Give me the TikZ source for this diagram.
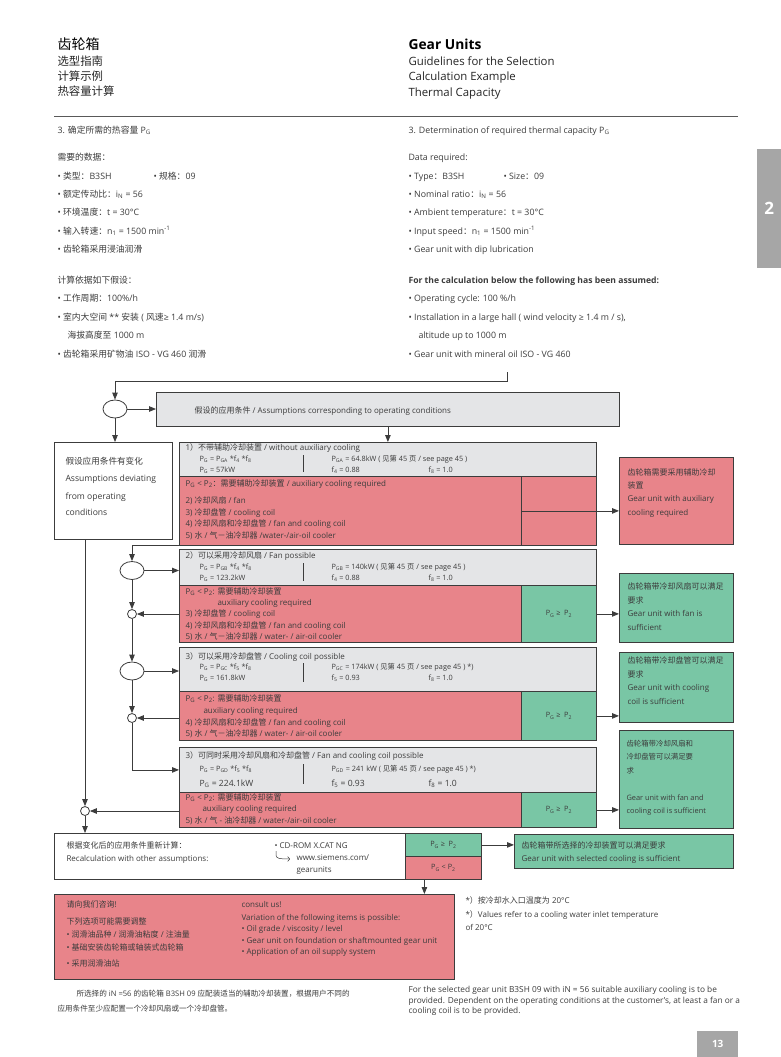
\documentclass[tikz,border=0pt]{standalone}
\usepackage{fontspec}
\setmainfont{Open Sans}
\newfontfamily\cjk{Noto Sans CJK SC}
\usetikzlibrary{arrows.meta,shapes.geometric}
% Chinese characters switch to the CJK family on their own
\XeTeXinterchartokenstate=1
\newXeTeXintercharclass\hanclass
\count255="21
\loop
  \XeTeXcharclass\count255=0
  \advance\count255 by 1
\ifnum\count255<"2E80 \repeat
\count255="2E80
\loop
  \XeTeXcharclass\count255=\hanclass
  \advance\count255 by 1
\ifnum\count255<"A000 \repeat
\count255="FF00
\loop
  \XeTeXcharclass\count255=\hanclass
  \advance\count255 by 1
\ifnum\count255<"FFF0 \repeat
\XeTeXinterchartoks 0 \hanclass = {\cjk}
\XeTeXinterchartoks 4095 \hanclass = {\cjk}
\XeTeXinterchartoks \hanclass 0 = {\rmfamily}
\XeTeXinterchartoks \hanclass 4095 = {\rmfamily}
\definecolor{txt}{RGB}{60,60,60}
\definecolor{edge}{RGB}{60,60,60}
\definecolor{boxred}{RGB}{232,132,138}
\definecolor{boxgreen}{RGB}{121,198,165}
\definecolor{boxgray}{RGB}{228,229,231}
\definecolor{tabgray}{RGB}{166,166,166}
\newcommand\Pg{P\textsubscript{G}}
\newcommand\Pz{P\textsubscript{2}}
\newcommand\sbs[1]{\textsubscript{#1}}
\begin{document}
\begin{tikzpicture}[x=1pt,y=-1pt,
  body/.style={anchor=base west,font=\fontsize{8.8}{10}\selectfont,text=txt},
  dia/.style={anchor=base west,font=\fontsize{8}{9}\selectfont,text=txt},
  frm/.style={anchor=base west,font=\fontsize{7.3}{8}\selectfont,text=txt},
  res/.style={anchor=base west,font=\fontsize{8}{9}\selectfont,text=txt},
  panel/.style={draw=edge,line width=.8pt,anchor=north west,inner sep=0pt},
  arr/.style={draw=edge,line width=.8pt,-{Triangle[length=7pt,width=5.5pt]}},
  bigc/.style={ellipse,draw=edge,fill=white,line width=.8pt,minimum width=24pt,minimum height=18pt,inner sep=0pt},
  smallc/.style={circle,draw=edge,fill=white,line width=.8pt,minimum size=9pt,inner sep=0pt}]
  \fill[white] (0,0) rectangle (781,1057);
  \useasboundingbox (0,0) rectangle (781,1057);

  % header
  \node[anchor=base west,font=\fontsize{14}{16}\selectfont,text=black] (zhtitle) at (54,49) {齿轮箱};
  \node[anchor=base west,font=\fontsize{11.4}{13}\selectfont,text=black!85] (zhsub1) at (54,66) {选型指南};
  \node[anchor=base west,font=\fontsize{11.4}{13}\selectfont,text=black!85] (zhsub2) at (54,81) {计算示例};
  \node[anchor=base west,font=\fontsize{11.4}{13}\selectfont,text=black!85] (zhsub3) at (54,95) {热容量计算};
  \node[anchor=base west,font=\fontsize{13.8}{16}\selectfont\bfseries,text=black] (entitle) at (405,49) {Gear Units};
  \node[anchor=base west,font=\fontsize{11.4}{13}\selectfont,text=black!85] (ensub1) at (405,66) {Guidelines for the Selection};
  \node[anchor=base west,font=\fontsize{11.4}{13}\selectfont,text=black!85] (ensub2) at (405,81) {Calculation Example};
  \node[anchor=base west,font=\fontsize{11.4}{13}\selectfont,text=black!85] (ensub3) at (405,96) {Thermal Capacity};
  \draw[black!65,line width=1pt] (54,116) -- (738,116);
  \node[anchor=north west,fill=tabgray,minimum width=24pt,minimum height=119pt,inner sep=0pt] (tab) at (757,149) {};
  \node[font=\fontsize{17}{18}\selectfont\bfseries,text=white] (tabnum) at (tab.center) {2};

  % data, chinese
  \node[body] (zh1) at (54,133) {3. 确定所需的热容量 \Pg};
  \node[body] (zh2) at (54,160) {需要的数据：};
  \node[body] (zh3) at (54,179) {• 类型：B3SH};
  \node[body] (zh3b) at (150,179) {• 规格：09};
  \node[body] (zh4) at (54,197) {• 额定传动比：i\sbs{N} = 56};
  \node[body] (zh5) at (54,215) {• 环境温度：t = 30°C};
  \node[body] (zh6) at (54,234) {• 输入转速：n\sbs{1} = 1500 min\textsuperscript{-1}};
  \node[body] (zh7) at (54,252) {• 齿轮箱采用浸油润滑};
  \node[body] (zh8) at (54,283) {计算依据如下假设：};
  \node[body] (zh9) at (54,301) {• 工作周期：100\%/h};
  \node[body] (zh10) at (54,320) {• 室内大空间 ** 安装 ( 风速≥ 1.4 m/s)};
  \node[body] (zh11) at (64,338) {海拔高度至 1000 m};
  \node[body] (zh12) at (54,357) {• 齿轮箱采用矿物油 ISO - VG 460 润滑};

  % data, english
  \node[body] (en1) at (405,133) {3. Determination of required thermal capacity \Pg};
  \node[body] (en2) at (405,160) {Data required:};
  \node[body] (en3) at (405,179) {• Type：B3SH};
  \node[body] (en3b) at (500,179) {• Size：09};
  \node[body] (en4) at (405,197) {• Nominal ratio：i\sbs{N} = 56};
  \node[body] (en5) at (405,215) {• Ambient temperature：t = 30°C};
  \node[body] (en6) at (405,234) {• Input speed：n\sbs{1} = 1500 min\textsuperscript{-1}};
  \node[body] (en7) at (405,252) {• Gear unit with dip lubrication};
  \node[body,font=\fontsize{8.6}{10}\selectfont\bfseries] (en8) at (405,283) {For the calculation below the following has been assumed:};
  \node[body] (en9) at (405,301) {• Operating cycle: 100 \%/h};
  \node[body] (en10) at (405,320) {• Installation in a large hall ( wind velocity ≥ 1.4 m / s),};
  \node[body] (en11) at (415,338) {altitude up to 1000 m};
  \node[body] (en12) at (405,357) {• Gear unit with mineral oil ISO - VG 460};

  % panels
  \node[panel,fill=boxgray,minimum width=463pt,minimum height=34pt] (assume) at (156,392) {};
  \node[panel,fill=white,minimum width=118pt,minimum height=97pt] (devbox) at (54,442) {};
  \node[panel,fill=boxgray,minimum width=417pt,minimum height=34pt] (b1top) at (179,442) {};
  \node[panel,fill=boxred,minimum width=417pt,minimum height=69pt] (b1bot) at (179,476) {};
  \node[panel,fill=boxred,minimum width=75pt,minimum height=69pt] (cell1) at (521,476) {};
  \node[panel,fill=boxred,minimum width=114pt,minimum height=87pt] (res1) at (619,457) {};
  \node[panel,fill=boxgray,minimum width=417pt,minimum height=36pt] (b2top) at (179,549) {};
  \node[panel,fill=boxred,minimum width=342pt,minimum height=57pt] (b2bot) at (179,585) {};
  \node[panel,fill=boxgreen,minimum width=75pt,minimum height=57pt] (cell2) at (521,585) {};
  \node[panel,fill=boxgreen,minimum width=114pt,minimum height=69pt] (res2) at (619,573) {};
  \node[panel,fill=boxgray,minimum width=417pt,minimum height=44pt] (b3top) at (179,647) {};
  \node[panel,fill=boxred,minimum width=342pt,minimum height=49pt] (b3bot) at (179,691) {};
  \node[panel,fill=boxgreen,minimum width=75pt,minimum height=49pt] (cell3) at (521,691) {};
  \node[panel,fill=boxgreen,minimum width=114pt,minimum height=70pt] (res3) at (619,652) {};
  \node[panel,fill=boxgray,minimum width=417pt,minimum height=45pt] (b4top) at (179,747) {};
  \node[panel,fill=boxred,minimum width=342pt,minimum height=35pt] (b4bot) at (179,792) {};
  \node[panel,fill=boxgreen,minimum width=75pt,minimum height=35pt] (cell4) at (521,792) {};
  \node[panel,fill=boxgreen,minimum width=114pt,minimum height=98pt] (res4) at (619,730) {};
  \node[panel,fill=white,minimum width=351pt,minimum height=46pt] (recalc) at (54,833) {};
  \node[panel,fill=boxgreen,minimum width=76pt,minimum height=23pt] (okcell) at (405,833) {};
  \node[panel,fill=boxred,minimum width=76pt,minimum height=23pt] (nocell) at (405,856) {};
  \node[panel,fill=boxgreen,minimum width=219pt,minimum height=34pt] (final) at (514,834) {};
  \node[panel,fill=boxred,minimum width=400pt,minimum height=85pt] (consult) at (54,894) {};

  % junctions
  \node[bigc] (c1) at (115,409) {};
  \node[bigc] (c2) at (132,570.5) {};
  \node[smallc] (s2) at (132,614) {};
  \node[bigc] (c3) at (132,671) {};
  \node[smallc] (s3) at (132,718) {};
  \node[smallc] (s4) at (85,811) {};

  % connectors
  \coordinate (feed) at (507,372);
  \draw[arr] (feed) -- ++(0,9) -| (c1.north);
  \draw[arr] (c1.east) -- (c1.east -| assume.west);
  \draw[arr] (c1.south) -- (c1.south |- devbox.north);
  \draw[arr] (assume.south) -- (assume.south |- b1top.north);
  \draw[arr] (cell1.west) -- (cell1.west -| res1.west);
  \draw[arr] (b1bot.south west) -| (c2.north);
  \draw[arr] (c2.east) -- (c2.east -| b2top.west);
  \draw[arr] (c2.south) -- (s2.north);
  \draw[arr] (s2.east -| b2bot.west) -- (s2.east);
  \draw[arr] (cell2.east) -- (cell2.east -| res2.west);
  \draw[arr] (s2.south) -- (c3.north);
  \draw[arr] (c3.east) -- (c3.east -| b3top.west);
  \draw[arr] (c3.south) -- (s3.north);
  \draw[arr] (s3.east -| b3bot.west) -- (s3.east);
  \draw[arr] (cell3.east) -- (cell3.east -| res3.west);
  \draw[arr] (s3.south) |- (b4top.west);
  \draw[arr] (s4.east -| b4bot.west) -- (s4.east);
  \draw[arr] (cell4.east) -- (cell4.east -| res4.west);
  \draw[arr] (s4 |- devbox.south) -- (s4.north);
  \draw[arr] (s4.south) -- (s4.south |- recalc.north);
  \draw[arr] (okcell.east) -- (okcell.east -| final.west);
  \draw[arr] ([xshift=-19pt]nocell.south) -- ([xshift=-19pt]nocell.south |- consult.north);

  % panel texts
  \node[dia] (assumet) at (191,413) {假设的应用条件 / Assumptions corresponding to operating conditions};
  \node[dia,font=\fontsize{8.6}{10}\selectfont] (dev1) at (62,464.5) {假设应用条件有变化};
  \node[dia,font=\fontsize{8.6}{10}\selectfont] (dev2) at (62,481.5) {Assumptions deviating};
  \node[dia,font=\fontsize{8.6}{10}\selectfont] (dev3) at (62,499.5) {from operating};
  \node[dia,font=\fontsize{8.6}{10}\selectfont] (dev4) at (62,515.5) {conditions};

  \node[dia] (b1t) at (182,450) {1）不带辅助冷却装置 / without auxiliary cooling};
  \node[frm] (b1f1) at (196,461.5) {\Pg{} = P\sbs{GA} *f\sbs{4} *f\sbs{8}};
  \node[frm] (b1f2) at (196,472.5) {\Pg{} = 57kW};
  \draw[edge,line width=.8pt] (303,455) -- (303,472);
  \node[frm] (b1f3) at (328,461.5) {P\sbs{GA} = 64.8kW ( 见第 45 页 / see page 45 )};
  \node[frm] (b1f4) at (328,472.5) {f\sbs{4} = 0.88};
  \node[frm] (b1f5) at (425,472.5) {f\sbs{8} = 1.0};
  \node[dia] (b1r1) at (182,486) {\Pg{} < \Pz：需要辅助冷却装置 / auxiliary cooling required};
  \node[dia] (b1r2) at (182,503) {2) 冷却风扇 / fan};
  \node[dia] (b1r3) at (182,515) {3) 冷却盘管 / cooling coil};
  \node[dia] (b1r4) at (182,526) {4) 冷却风扇和冷却盘管 / fan and cooling coil};
  \node[dia] (b1r5) at (182,538) {5) 水 / 气－油冷却器 /water-/air-oil cooler};

  \node[dia] (b2t) at (182,558) {2）可以采用冷却风扇 / Fan possible};
  \node[frm] (b2f1) at (196,569.5) {\Pg{} = P\sbs{GB} *f\sbs{4} *f\sbs{8}};
  \node[frm] (b2f2) at (196,580.5) {\Pg{} = 123.2kW};
  \draw[edge,line width=.8pt] (303,563) -- (303,581);
  \node[frm] (b2f3) at (328,569.5) {P\sbs{GB} = 140kW ( 见第 45 页 / see page 45 )};
  \node[frm] (b2f4) at (328,580.5) {f\sbs{4} = 0.88};
  \node[frm] (b2f5) at (425,580.5) {f\sbs{8} = 1.0};
  \node[dia] (b2r1) at (182,594) {\Pg{} < \Pz : 需要辅助冷却装置};
  \node[dia] (b2r2) at (214,605) {auxiliary cooling required};
  \node[dia] (b2r3) at (182,616) {3) 冷却盘管 / cooling coil};
  \node[dia] (b2r4) at (182,628) {4) 冷却风扇和冷却盘管 / fan and cooling coil};
  \node[dia] (b2r5) at (182,639) {5) 水 / 气－油冷却器 / water- / air-oil cooler};

  \node[dia] (b3t) at (182,659) {3）可以采用冷却盘管 / Cooling coil possible};
  \node[frm] (b3f1) at (196,669.5) {\Pg{} = P\sbs{GC} *f\sbs{5} *f\sbs{8}};
  \node[frm] (b3f2) at (196,680.5) {\Pg{} = 161.8kW};
  \draw[edge,line width=.8pt] (303,663) -- (303,682);
  \node[frm] (b3f3) at (328,669.5) {P\sbs{GC} = 174kW ( 见第 45 页 / see page 45 ) *)};
  \node[frm] (b3f4) at (328,680.5) {f\sbs{5} = 0.93};
  \node[frm] (b3f5) at (425,680.5) {f\sbs{8} = 1.0};
  \node[dia] (b3r1) at (182,701) {\Pg{} < \Pz : 需要辅助冷却装置};
  \node[dia] (b3r2) at (200,713) {auxiliary cooling required};
  \node[dia] (b3r3) at (182,725) {4) 冷却风扇和冷却盘管 / fan and cooling coil};
  \node[dia] (b3r4) at (182,736) {5) 水 / 气－油冷却器 / water- / air-oil cooler};

  \node[dia] (b4t) at (182,758) {3）可同时采用冷却风扇和冷却盘管 / Fan and cooling coil possible};
  \node[frm] (b4f1) at (196,771.5) {\Pg{} = P\sbs{GD} *f\sbs{5} *f\sbs{8}};
  \node[dia,font=\fontsize{8.6}{10}\selectfont] (b4f2) at (196,786.5) {\Pg{} = 224.1kW};
  \draw[edge,line width=.8pt] (303,764) -- (303,784);
  \node[frm] (b4f3) at (328,771.5) {P\sbs{GD} = 241 kW ( 见第 45 页 / see page 45 ) *)};
  \node[dia,font=\fontsize{8.6}{10}\selectfont] (b4f4) at (328,786.5) {f\sbs{5} = 0.93};
  \node[dia,font=\fontsize{8.6}{10}\selectfont] (b4f5) at (425,786.5) {f\sbs{8} = 1.0};
  \node[dia] (b4r1) at (182,800) {\Pg{} < \Pz : 需要辅助冷却装置};
  \node[dia] (b4r2) at (199,811) {auxiliary cooling required};
  \node[dia] (b4r3) at (182,823) {5) 水 / 气 - 油冷却器 / water-/air-oil cooler};

  \node[frm,anchor=center] (cell2t) at (cell2) {\Pg{} ≥ \ \Pz};
  \node[frm,anchor=center] (cell3t) at (cell3) {\Pg{} ≥ \ \Pz};
  \node[frm,anchor=center] (cell4t) at (cell4) {\Pg{} ≥ \ \Pz};

  % result texts
  \node[res] (r1a) at (624,475) {齿轮箱需要采用辅助冷却};
  \node[res] (r1b) at (624,488) {装置};
  \node[res] (r1c) at (624,501) {Gear unit with auxiliary};
  \node[res] (r1d) at (624,515) {cooling required};
  \node[res] (r2a) at (624,589) {齿轮箱带冷却风扇可以满足};
  \node[res] (r2b) at (624,603) {要求};
  \node[res] (r2c) at (624,616) {Gear unit with fan is};
  \node[res] (r2d) at (624,630) {sufficient};
  \node[res] (r3a) at (624,663) {齿轮箱带冷却盘管可以满足};
  \node[res] (r3b) at (624,677) {要求};
  \node[res] (r3c) at (624,690) {Gear unit with cooling};
  \node[res] (r3d) at (624,704) {coil is sufficient};
  \node[res,font=\fontsize{7.4}{8}\selectfont] (r4a) at (623,746) {齿轮箱带冷却风扇和};
  \node[res,font=\fontsize{7.4}{8}\selectfont] (r4b) at (623,759) {冷却盘管可以满足要};
  \node[res,font=\fontsize{7.4}{8}\selectfont] (r4c) at (623,773) {求};
  \node[res,font=\fontsize{7.4}{8}\selectfont] (r4d) at (623,800) {Gear unit with fan and};
  \node[res,font=\fontsize{7.4}{8}\selectfont] (r4e) at (623,813) {cooling coil is sufficient};

  % recalculation
  \node[dia] (rc1) at (63,848.5) {根据变化后的应用条件重新计算：};
  \node[dia] (rc2) at (63,861.5) {Recalculation with other assumptions:};
  \node[dia] (rc3) at (271,848.5) {• CD-ROM X.CAT NG};
  \node[dia] (rc4) at (293,860.5) {www.siemens.com/};
  \node[dia] (rc5) at (293,872) {gearunits};
  \draw[edge,line width=.5pt,-{To[length=2.5pt]}] (276,851) -- (276,855) .. controls (276,858) and (278,859) .. (290,859);
  \node[frm,anchor=center] (okt) at (okcell) {\Pg{} ≥ \ \Pz};
  \node[frm,anchor=center] (not) at (nocell) {\Pg{} < \Pz};
  \node[res] (fin1) at (518,848.5) {齿轮箱带所选择的冷却装置可以满足要求};
  \node[res] (fin2) at (518,861.5) {Gear unit with selected cooling is sufficient};

  % consult
  \node[dia] (cz1) at (63,907.5) {请向我们咨询!};
  \node[dia] (cz2) at (63,924.5) {下列选项可能需要调整};
  \node[dia] (cz3) at (63,937.5) {• 润滑油品种 / 润滑油粘度 / 注油量};
  \node[dia] (cz4) at (63,950.5) {• 基础安装齿轮箱或轴装式齿轮箱};
  \node[dia] (cz5) at (63,966.5) {• 采用润滑油站};
  \node[dia] (ce1) at (238,907.5) {consult us!};
  \node[dia] (ce2) at (238,920) {Variation of the following items is possible:};
  \node[dia] (ce3) at (238,931.5) {• Oil grade / viscosity / level};
  \node[dia] (ce4) at (238,943) {• Gear unit on foundation or shaftmounted gear unit};
  \node[dia] (ce5) at (238,954.5) {• Application of an oil supply system};

  % notes and closing text
  \node[dia] (n1) at (462,903.5) {*）按冷却水入口温度为 20°C};
  \node[dia] (n2) at (462,917.5) {*）Values refer to a cooling water inlet temperature};
  \node[dia] (n3) at (462,930.5) {of 20°C};
  \node[dia,font=\fontsize{7.6}{9}\selectfont] (p1) at (73,996.5) {所选择的 iN =56 的齿轮箱 B3SH 09 应配装适当的辅助冷却装置，根据用户不同的};
  \node[dia,font=\fontsize{7.6}{9}\selectfont] (p2) at (54,1011.5) {应用条件至少应配置一个冷却风扇或一个冷却盘管。};
  \node[dia,font=\fontsize{8.3}{9}\selectfont] (q1) at (405,992.5) {For the selected gear unit B3SH 09 with iN = 56 suitable auxiliary cooling is to be};
  \node[dia,font=\fontsize{8.3}{9}\selectfont] (q2) at (405,1003) {provided. Dependent on the operating conditions at the customer's, at least a fan or a};
  \node[dia,font=\fontsize{8.3}{9}\selectfont] (q3) at (405,1013.5) {cooling coil is to be provided.};
  \node[anchor=north west,fill=tabgray,minimum width=41pt,minimum height=26pt,inner sep=0pt] (pagebox) at (697,1031) {};
  \node[font=\fontsize{10}{12}\selectfont\bfseries,text=white] (pagenum) at (pagebox.center) {13};
\end{tikzpicture}
\end{document}
